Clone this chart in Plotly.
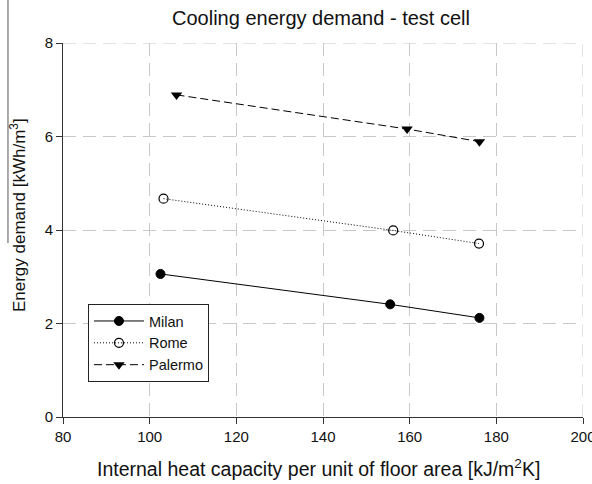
import plotly.graph_objects as go

# Data
milan_x = [102.5, 155.5, 176.1]
milan_y = [3.06, 2.41, 2.12]
rome_x = [103.2, 156.2, 176.0]
rome_y = [4.67, 3.99, 3.71]
palermo_x = [106.2, 159.4, 176.1]
palermo_y = [6.89, 6.16, 5.89]

x_ticks = [80, 100, 120, 140, 160, 180, 200]
y_ticks = [0, 2, 4, 6, 8]

FONT = "Liberation Sans, Arial, sans-serif"
GRID = dict(color="#c8c8c8", width=1, dash="13px,7px")

fig = go.Figure()
fig.add_trace(go.Scatter(
    x=milan_x, y=milan_y, name="Milan", mode="lines+markers",
    line=dict(color="black", width=1, dash="solid"),
    marker=dict(symbol="circle", size=9, color="black", line=dict(color="black", width=1)),
))
fig.add_trace(go.Scatter(
    x=rome_x, y=rome_y, name="Rome", mode="lines+markers",
    line=dict(color="black", width=1, dash="1px,2px"),
    marker=dict(symbol="circle-open", size=9, color="black", line=dict(color="black", width=1.2)),
))
fig.add_trace(go.Scatter(
    x=palermo_x, y=palermo_y, name="Palermo", mode="lines+markers",
    line=dict(color="black", width=1, dash="8px,4px"),
    marker=dict(symbol="triangle-down", size=10, color="black", line=dict(color="black", width=0)),
))

axis_common = dict(
    showline=True, linecolor="#333333", linewidth=1,
    ticks="outside", ticklen=6, tickcolor="#333333", tickwidth=1,
    showgrid=True, gridcolor=GRID["color"], gridwidth=1, griddash=GRID["dash"],
    zeroline=False, layer="below traces", automargin=False,
    tickfont=dict(family=FONT, size=15, color="#111111"),
    ticklabeloverflow="allow",
)

fig.update_xaxes(range=[80, 200], tickvals=x_ticks, **axis_common)
fig.update_yaxes(range=[0, 8], tickvals=y_ticks, **axis_common)

# edge grid lines (x = 200, y = 8) that plotly omits at the range limits
edge_shapes = [
    dict(type="line", xref="x", yref="paper", x0=x_ticks[-1], x1=x_ticks[-1], y0=0, y1=1,
         line=GRID, layer="below"),
    dict(type="line", xref="paper", yref="y", x0=0, x1=1, y0=y_ticks[-1], y1=y_ticks[-1],
         line=GRID, layer="below"),
    dict(type="line", xref="paper", yref="paper",
         x0=-0.1058, x1=-0.1058, y0=1.115, y1=0.465,
         line=dict(color="#555555", width=1)),
]

fig.update_layout(
    width=592, height=484,
    margin=dict(l=63, r=9, t=43, b=67, autoexpand=False),
    plot_bgcolor="white", paper_bgcolor="white",
    font=dict(family=FONT, color="#111111"),
    showlegend=True,
    legend=dict(
        x=0.048, y=0.302, xanchor="left", yanchor="top",
        bordercolor="#222222", borderwidth=1, bgcolor="white",
        font=dict(family=FONT, size=14.5, color="#111111"),
        tracegroupgap=0, itemwidth=50,
    ),
    annotations=[
        dict(text="Cooling energy demand - test cell", x=0.496, y=1.067,
             xref="paper", yref="paper", xanchor="center", yanchor="middle",
             showarrow=False, font=dict(family=FONT, size=20, color="#111111")),
        dict(text="Internal heat capacity per unit of floor area [kJ/m<sup>2</sup>K]",
             x=0.492, y=-0.136, xref="paper", yref="paper",
             xanchor="center", yanchor="middle", showarrow=False,
             font=dict(family=FONT, size=19.5, color="#111111")),
        dict(text="Energy demand [kWh/m<sup>3</sup>]", textangle=-90,
             x=-0.0865, y=0.54, xref="paper", yref="paper",
             xanchor="center", yanchor="middle", showarrow=False,
             font=dict(family=FONT, size=17, color="#111111")),
    ],
    shapes=edge_shapes,
)

fig.write_html("out.html")
